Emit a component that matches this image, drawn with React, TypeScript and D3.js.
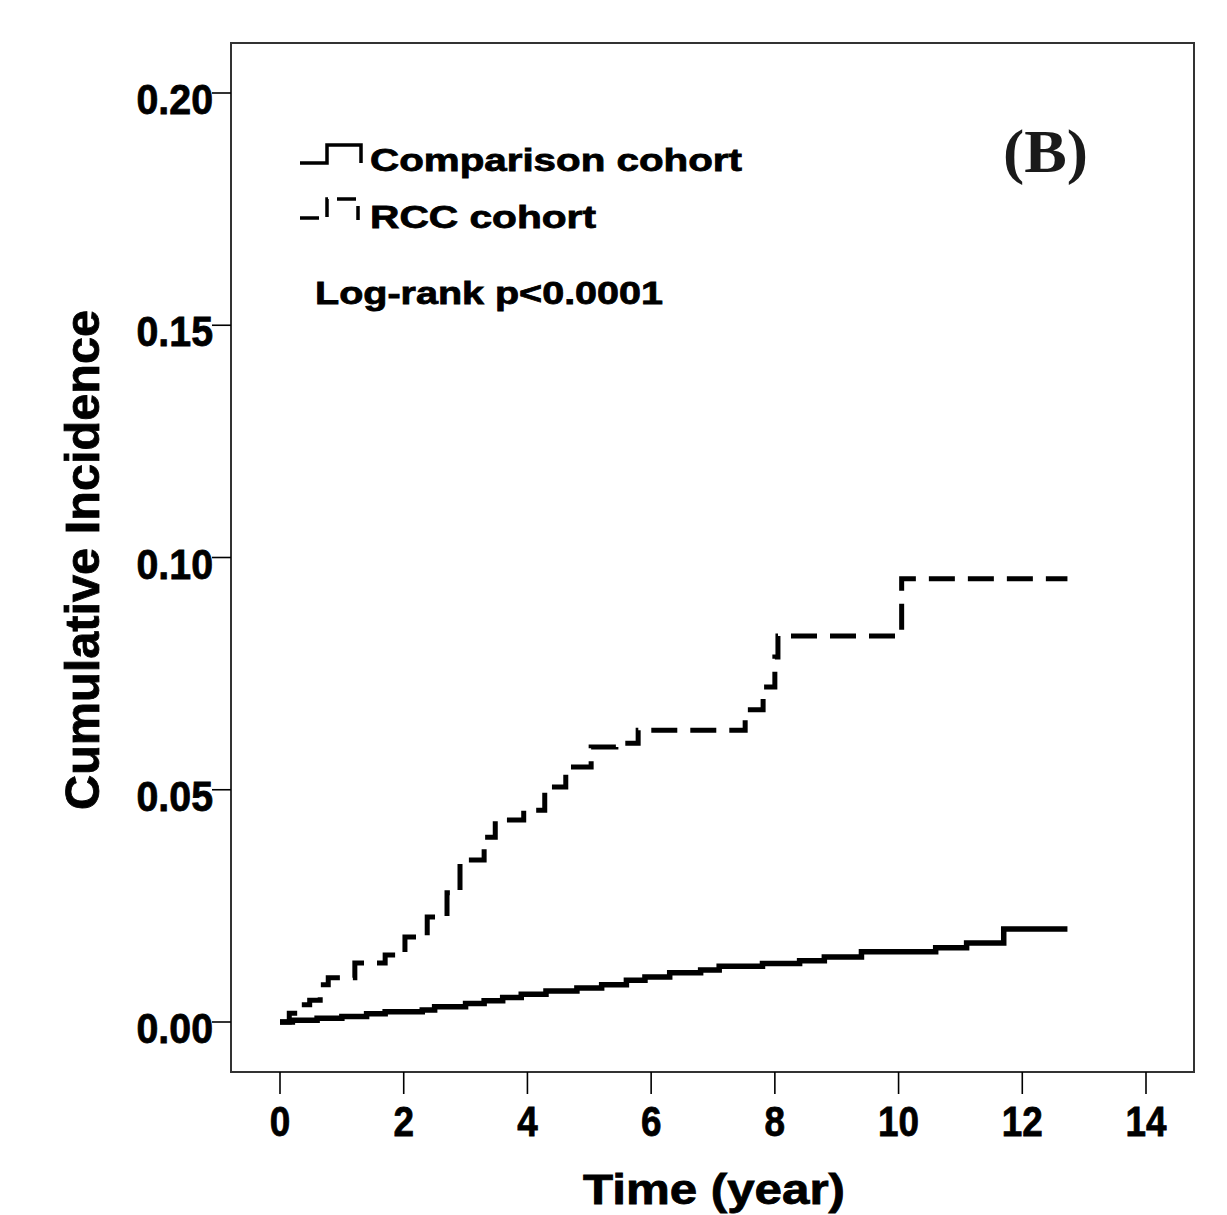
import React from 'react';
import * as d3 from 'd3';

// Kaplan-Meier style cumulative incidence
const comparisonTime = [0, 0.2, 0.6, 1.0, 1.4, 1.7, 2.3, 2.5, 3.0, 3.3, 3.6, 3.9, 4.3, 4.8, 5.2, 5.6, 5.9, 6.3, 6.8, 7.1, 7.8, 8.4, 8.8, 9.4, 10.6, 11.1, 11.7, 12.73];
const comparisonRisk = [0, 0.0004, 0.0008, 0.0012, 0.0018, 0.0022, 0.0026, 0.0033, 0.004, 0.0046, 0.0053, 0.006, 0.0067, 0.0073, 0.008, 0.009, 0.0097, 0.0106, 0.0112, 0.012, 0.0126, 0.0132, 0.014, 0.0151, 0.016, 0.017, 0.02, 0.02];

const rccTime = [0, 0.15, 0.32, 0.48, 0.65, 0.78, 1.21, 1.7, 2.02, 2.38, 2.7, 2.91, 3.3, 3.48, 3.94, 4.28, 4.62, 4.69, 5.03, 5.43, 5.79, 7.52, 7.81, 8.0, 8.05, 10.05, 12.73];
const rccRisk = [0, 0.0019, 0.0037, 0.0047, 0.008, 0.0095, 0.0127, 0.0144, 0.0183, 0.0226, 0.0278, 0.0349, 0.0398, 0.0435, 0.0456, 0.0506, 0.0536, 0.0549, 0.0592, 0.06, 0.0628, 0.0672, 0.0721, 0.0786, 0.0831, 0.0954, 0.0954];

const xTicks = [0, 2, 4, 6, 8, 10, 12, 14];
const yTicks = [0, 0.05, 0.1, 0.15, 0.2];

const font = '"Liberation Sans", Arial, sans-serif';

// rough width of a bold, condensed label: digits ~20px, dot ~15px
const labelWidth = (s: string) => s.split('').reduce((w, c) => w + (c === '.' ? 15 : 20.5), 0);

const App = () => {
  const width = 1227;
  const height = 1215;

  const x = d3.scaleLinear().domain([0, 14]).range([280, 1146]);
  const y = d3.scaleLinear().domain([0, 0.2]).range([1022, 93]);

  const line = d3.line<[number, number]>()
    .x(d => x(d[0]))
    .y(d => y(d[1]))
    .curve(d3.curveStepAfter);

  const comparison = comparisonTime.map((t, i) => [t, comparisonRisk[i]] as [number, number]);
  const rcc = rccTime.map((t, i) => [t, rccRisk[i]] as [number, number]);

  const frame = { left: 231, top: 43, right: 1194, bottom: 1072 };

  return (
    <svg width={width} height={height} style={{ position: 'absolute', left: 0, top: 0, background: '#fff' }}>
      <rect x={0} y={0} width={width} height={height} fill="#fff" />

      {/* plot frame */}
      <rect x={frame.left} y={frame.top} width={frame.right - frame.left} height={frame.bottom - frame.top}
        fill="none" stroke="#333" strokeWidth={2} />

      {/* y axis */}
      {yTicks.map(t => (
        <g key={'y' + t}>
          <line x1={212} x2={frame.left} y1={y(t)} y2={y(t)} stroke="#000" strokeWidth={1.6} />
          <text x={213} y={y(t) + 21} textAnchor="end" fontFamily={font} fontWeight="bold" fontSize={43}
            stroke="#000" strokeWidth={0.8}
            textLength={labelWidth(d3.format('.2f')(t))} lengthAdjust="spacingAndGlyphs">
            {d3.format('.2f')(t)}
          </text>
        </g>
      ))}

      {/* x axis */}
      {xTicks.map(t => (
        <g key={'x' + t}>
          <line x1={x(t)} x2={x(t)} y1={frame.bottom} y2={1094} stroke="#000" strokeWidth={1.6} />
          <text x={x(t)} y={1136} textAnchor="middle" fontFamily={font} fontWeight="bold" fontSize={43}
            stroke="#000" strokeWidth={0.8}
            textLength={labelWidth(String(t))} lengthAdjust="spacingAndGlyphs">
            {t}
          </text>
        </g>
      ))}

      <text x={714} y={1204} textAnchor="middle" fontFamily={font} fontWeight="bold" fontSize={42}
        stroke="#000" strokeWidth={0.8} textLength={262} lengthAdjust="spacingAndGlyphs">Time (year)</text>

      <text transform={`translate(99,560) rotate(-90)`} textAnchor="middle" fontFamily={font} fontWeight="bold"
        fontSize={48} stroke="#000" strokeWidth={0.8} textLength={500} lengthAdjust="spacingAndGlyphs">
        Cumulative Incidence
      </text>

      {/* curves */}
      <path d={line(comparison) || ''} fill="none" stroke="#000" strokeWidth={5.5} />
      <path d={line(rcc) || ''} fill="none" stroke="#000" strokeWidth={5} strokeDasharray="26 13" />

      {/* legend */}
      <path d="M300,163 H327 V145 H361 V163" fill="none" stroke="#000" strokeWidth={3.5} />
      <path d="M300,218 H327 V199 H358 V220" fill="none" stroke="#000" strokeWidth={3.5} strokeDasharray="19 9" />
      <text x={370} y={171} fontFamily={font} fontWeight="bold" fontSize={32} stroke="#000" strokeWidth={0.8}
        textLength={372} lengthAdjust="spacingAndGlyphs">Comparison cohort</text>
      <text x={370} y={228} fontFamily={font} fontWeight="bold" fontSize={32} stroke="#000" strokeWidth={0.8}
        textLength={226} lengthAdjust="spacingAndGlyphs">RCC cohort</text>
      <text x={315} y={304} fontFamily={font} fontWeight="bold" fontSize={32} stroke="#000" strokeWidth={0.8}
        textLength={348} lengthAdjust="spacingAndGlyphs">Log-rank p&lt;0.0001</text>

      <text x={1003} y={172} fontFamily='"Liberation Serif", "Times New Roman", serif' fontWeight="bold"
        fontSize={62} fill="#1a1a1a" textLength={85} lengthAdjust="spacingAndGlyphs">(B)</text>
    </svg>
  );
};

export default App;
